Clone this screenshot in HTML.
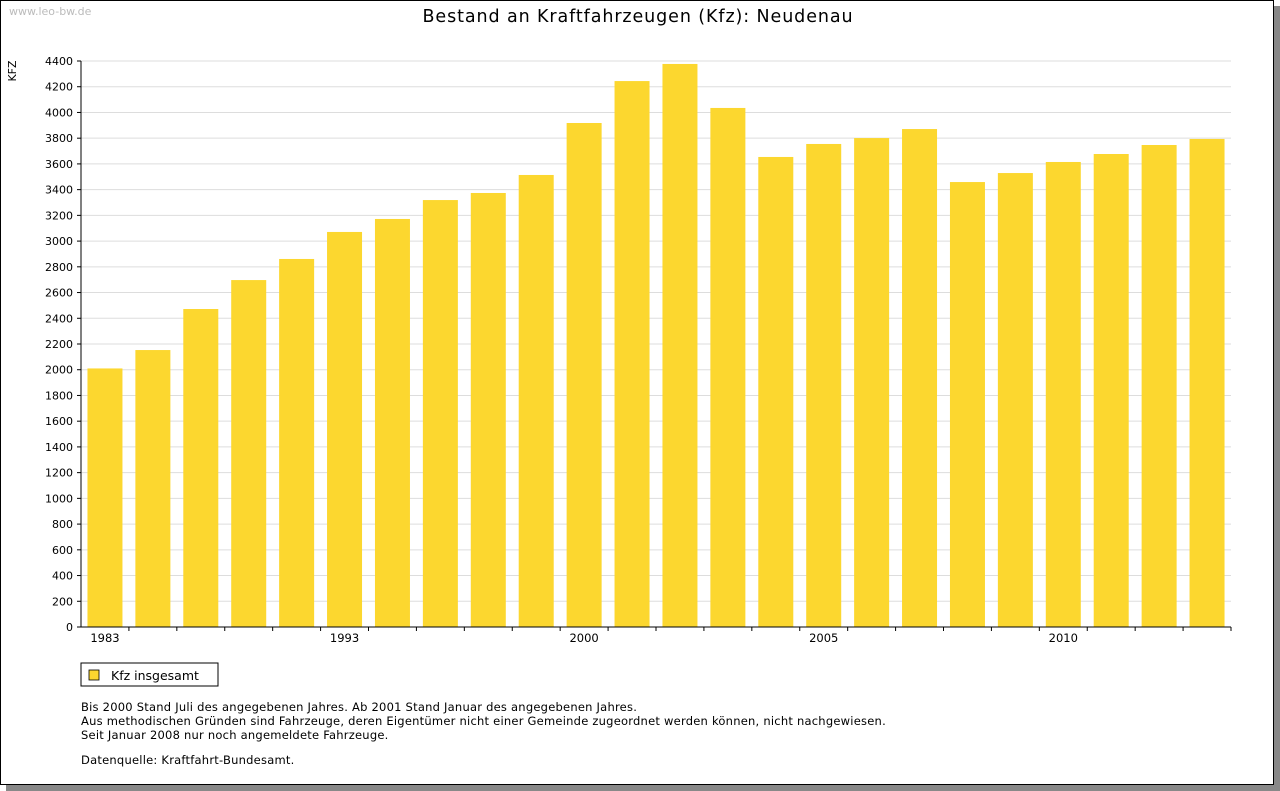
<!DOCTYPE html>
<html><head><meta charset="utf-8"><style>
body{margin:0;background:#fff;width:1280px;height:791px;overflow:hidden;font-family:"DejaVu Sans","Liberation Sans",sans-serif}
#frame{position:absolute;left:0;top:0;width:1272px;height:783px;border:1px solid #000;background:#fff;box-shadow:6px 6px 0 #888}
</style></head><body>
<div id="frame">
<svg id="chart" width="1274" height="785" style="font-family:'DejaVu Sans','Liberation Sans',sans-serif">
<text x="8" y="14" font-size="11" fill="#bbb">www.leo-bw.de</text>
<text x="637" y="21" font-size="17.5" letter-spacing="0.9" text-anchor="middle" fill="#000">Bestand an Kraftfahrzeugen (Kfz): Neudenau</text>
<text x="0" y="0" font-size="11" transform="translate(15,70) rotate(-90)" text-anchor="middle">KFZ</text>
<g id="grid"></g><g id="bars"></g><g id="axes"></g>
<rect x="80" y="662" width="137" height="23" fill="#fff" stroke="#000"/>
<rect x="88" y="669" width="10" height="10" fill="#fcd72f" stroke="#000" stroke-width="0.8"/>
<text x="110" y="679" font-size="12.5">Kfz insgesamt</text>
<g font-size="11.5" letter-spacing="0.23">
<text x="80" y="710">Bis 2000 Stand Juli des angegebenen Jahres. Ab 2001 Stand Januar des angegebenen Jahres.</text>
<text x="80" y="724">Aus methodischen Gründen sind Fahrzeuge, deren Eigentümer nicht einer Gemeinde zugeordnet werden können, nicht nachgewiesen.</text>
<text x="80" y="738">Seit Januar 2008 nur noch angemeldete Fahrzeuge.</text>
<text x="80" y="763">Datenquelle: Kraftfahrt-Bundesamt.</text>
</g>
</svg></div>
<script>
const categories=["1983","1985","1987","1989","1991","1993","1995","1996","1997","1998","2000","2001","2002","2003","2004","2005","2006","2007","2008","2009","2010","2011","2012","2013"];
const xLabels=["1983","","","","","1993","","","","","2000","","","","","2005","","","","","2010","","",""];
const values=[2010,2153,2472,2697,2861,3071,3172,3319,3374,3514,3918,4244,4377,4035,3654,3755,3801,3871,3459,3529,3615,3677,3747,3794];
const yTicks=[0,200,400,600,800,1000,1200,1400,1600,1800,2000,2200,2400,2600,2800,3000,3200,3400,3600,3800,4000,4200,4400];
const NS="http://www.w3.org/2000/svg";
const X0=80,X1=1230,Y0=626,Y1=60,YMAX=4400;
const y=v=>Y0-(v/YMAX)*(Y0-Y1);
const step=(X1-X0)/categories.length;
const x=i=>X0+step*i+step/2;
function mk(t,a,p){const e=document.createElementNS(NS,t);for(const k in a)e.setAttribute(k,a[k]);p.appendChild(e);return e;}
const grid=document.getElementById('grid'),bars=document.getElementById('bars'),axes=document.getElementById('axes');
yTicks.forEach(v=>{
 const l=mk('line',{x1:X0,x2:X1,y1:y(v),y2:y(v),stroke:'#ddd'},grid);
 
 
 const tk=mk('line',{x1:X0-4,x2:X0,y1:y(v),y2:y(v),stroke:'#000'},axes);
 
 
 const t=mk('text',{x:X0-8,y:y(v)+4,'font-size':11,'text-anchor':'end'},axes);
 t.textContent=v;
 
 
});
values.forEach((v,i)=>{
 const bw=35;
 const r=mk('rect',{x:x(i)-bw/2,y:y(v),width:bw,height:Y0-y(v),fill:'#fcd72f'},bars);
 
 
 const tk=mk('line',{x1:X0+step*(i+1),x2:X0+step*(i+1),y1:Y0,y2:Y0+4,stroke:'#000'},axes);
 
 
 if(xLabels[i]){const t=mk('text',{x:x(i),y:Y0+15,'font-size':11.5,'text-anchor':'middle'},axes);
 t.textContent=xLabels[i];
 
 }
});
const ya=mk('line',{x1:X0,x2:X0,y1:Y1,y2:Y0,stroke:'#000'},axes);


const xa=mk('line',{x1:X0,x2:X1,y1:Y0,y2:Y0,stroke:'#000'},axes);


</script>
</body></html>
